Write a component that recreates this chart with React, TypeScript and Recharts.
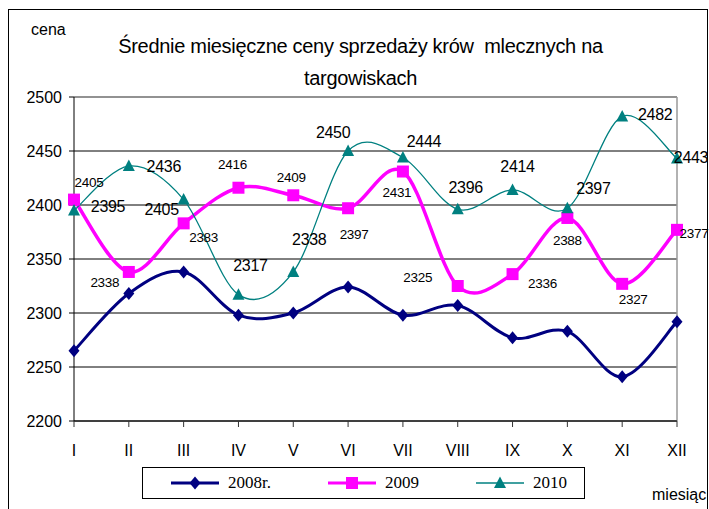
import React from 'react';
import { LineChart, Line, XAxis, YAxis, CartesianGrid, ReferenceLine, Legend, LabelList } from 'recharts';

const months = ['I', 'II', 'III', 'IV', 'V', 'VI', 'VII', 'VIII', 'IX', 'X', 'XI', 'XII'];
const prices2008 = [2265, 2318, 2338, 2298, 2300, 2324, 2298, 2307, 2277, 2283, 2241, 2292];
const prices2009 = [2405, 2338, 2383, 2416, 2409, 2397, 2431, 2325, 2336, 2388, 2327, 2377];
const prices2010 = [2395, 2436, 2405, 2317, 2338, 2450, 2444, 2396, 2414, 2397, 2482, 2443];
const yTicks = [2200, 2250, 2300, 2350, 2400, 2450, 2500];

const data = months.map((m, i) => ({
  month: m,
  y2008: prices2008[i],
  y2009: prices2009[i],
  y2010: prices2010[i],
}));

// where each data label sits, relative to its point (hand placed in the original)
const OFFSETS_2009 = [
  [15, -17], [-24, 11], [20, 14], [-6, -23], [-2, -18], [6, 26],
  [-6, 21], [-40, -9], [30, 9], [0, 23], [11, 16], [17, 4],
];
const OFFSETS_2010 = [
  [34, -4], [35, 0], [-22, 10], [12, -29], [16, -32], [-15, -19],
  [21, -16], [8, -22], [5, -23], [26, -20], [33, -2], [14, -1],
];

const FONT = '"Liberation Sans", Arial, sans-serif';
const NAVY = '#000080';
const PINK = '#FF00FF';
const TEAL = '#008080';

// Excel-style smoothing: cubic bezier with control points at 1/6 of the neighbour chord
function excelSmooth(context: any) {
  let pts: number[][] = [];
  return {
    areaStart() {},
    areaEnd() {},
    lineStart() {
      pts = [];
    },
    point(x: number, y: number) {
      pts.push([+x, +y]);
    },
    lineEnd() {
      if (!pts.length) return;
      context.moveTo(pts[0][0], pts[0][1]);
      for (let i = 0; i < pts.length - 1; i++) {
        const p0 = pts[i - 1] || pts[i];
        const p1 = pts[i];
        const p2 = pts[i + 1];
        const p3 = pts[i + 2] || pts[i + 1];
        context.bezierCurveTo(
          p1[0] + (p2[0] - p0[0]) / 6,
          p1[1] + (p2[1] - p0[1]) / 6,
          p2[0] - (p3[0] - p1[0]) / 6,
          p2[1] - (p3[1] - p1[1]) / 6,
          p2[0],
          p2[1]
        );
      }
    },
  };
}

const diamond = (cx: number, cy: number, color: string, key?: string) => (
  <path key={key} d={`M${cx},${cy - 6.5}L${cx + 5.5},${cy}L${cx},${cy + 6.5}L${cx - 5.5},${cy}Z`} fill={color} />
);
const square = (cx: number, cy: number, color: string, key?: string) => (
  <rect key={key} x={cx - 6} y={cy - 6} width={12} height={12} fill={color} />
);
const triangle = (cx: number, cy: number, color: string, key?: string) => (
  <path key={key} d={`M${cx},${cy - 6.5}L${cx + 6},${cy + 5}L${cx - 6},${cy + 5}Z`} fill={color} />
);

const dotOf = (shape: any, color: string) => (p: any) => shape(p.cx, p.cy, color, `dot-${p.index}`);

const labelOf = (offsets: number[][], fontSize: number) => (p: any) => {
  const vb = p.viewBox || {};
  const x = p.x ?? vb.x;
  const y = p.y ?? vb.y;
  const [dx, dy] = offsets[p.index] || [0, 0];
  return (
    <text
      key={`lbl-${p.index}`}
      x={x + dx}
      y={y + dy}
      textAnchor="middle"
      dominantBaseline="central"
      fontFamily={FONT}
      fontSize={fontSize}
      letterSpacing={-0.3}
      fill="#000"
    >
      {p.value}
    </text>
  );
};

const LEGEND_SHAPES: Record<string, any> = { '2008r.': diamond, '2009': square, '2010': triangle };
const LEGEND_WIDTHS: Record<string, number> = { '2008r.': 3, '2009': 3, '2010': 1.3 };

function LegendBox({ payload }: any) {
  return (
    <div
      style={{
        boxSizing: 'border-box',
        width: 443,
        height: 32,
        border: '1px solid #000',
        display: 'flex',
        alignItems: 'center',
        paddingLeft: 28,
        gap: 57,
        background: '#fff',
      }}
    >
      {(payload || []).map((item: any) => (
        <div key={item.value} style={{ display: 'flex', alignItems: 'center', gap: 9 }}>
          <svg width={48} height={16}>
            <line x1={0} y1={8} x2={48} y2={8} stroke={item.color} strokeWidth={LEGEND_WIDTHS[item.value]} />
            {LEGEND_SHAPES[item.value](24, 8, item.color)}
          </svg>
          <span style={{ fontFamily: '"Liberation Serif", "Times New Roman", serif', fontSize: 17, color: '#000' }}>
            {item.value}
          </span>
        </div>
      ))}
    </div>
  );
}

export default function App() {
  return (
    <div style={{ position: 'absolute', left: 0, top: 0, width: 709, height: 509, background: '#fff', overflow: 'hidden' }}>
      <div
        style={{
          position: 'absolute',
          left: 7.5,
          top: 8.5,
          width: 698,
          height: 520,
          border: '1.5px solid #000',
        }}
      />
      <div style={{ position: 'absolute', left: 31, top: 20, fontFamily: FONT, fontSize: 16, lineHeight: '20px' }}>cena</div>
      <div
        style={{
          position: 'absolute',
          left: 0,
          width: 721,
          top: 30,
          textAlign: 'center',
          fontFamily: FONT,
          fontSize: 20,
          lineHeight: '32px',
          letterSpacing: -0.3,
          whiteSpace: 'pre',
        }}
      >
        {'Średnie miesięczne ceny sprzedaży krów  mlecznych na\ntargowiskach'}
      </div>
      <div style={{ position: 'absolute', left: 652, top: 485, fontFamily: FONT, fontSize: 16, lineHeight: '20px', whiteSpace: 'nowrap' }}>
        miesiąc
      </div>
      <div style={{ position: 'absolute', left: 0, top: 0 }}>
        <LineChart width={709} height={509} data={data} margin={{ top: 97, right: 32, left: 0, bottom: 58 }}>
          <CartesianGrid vertical={false} stroke="#000" strokeWidth={1} fill="none" />
          <ReferenceLine y={2500} stroke="#999" strokeWidth={1.5} />
          <ReferenceLine x="XII" stroke="#999" strokeWidth={1.5} />
          <XAxis
            dataKey="month"
            height={30}
            axisLine={{ stroke: '#000' }}
            tickLine={{ stroke: '#333' }}
            tickSize={6}
            tickMargin={18}
            tick={{ fontFamily: FONT, fontSize: 16, fill: '#000' }}
            interval={0}
          />
          <YAxis
            width={74}
            domain={[2200, 2500]}
            ticks={yTicks}
            allowDataOverflow
            axisLine={{ stroke: '#000' }}
            tickLine={{ stroke: '#000' }}
            tickSize={5}
            tickMargin={7}
            tick={{ fontFamily: FONT, fontSize: 16, fill: '#000' }}
          />
          <Legend
            layout="horizontal"
            verticalAlign="middle"
            align="center"
            wrapperStyle={{ left: 142, top: 467, width: 443, height: 32 }}
            content={<LegendBox />}
          />
          <Line
            name="2008r."
            dataKey="y2008"
            stroke={NAVY}
            strokeWidth={3}
            type={excelSmooth as any}
            dot={dotOf(diamond, NAVY)}
            activeDot={false}
            isAnimationActive={false}
          />
          <Line
            name="2009"
            dataKey="y2009"
            stroke={PINK}
            strokeWidth={3.5}
            type={excelSmooth as any}
            dot={dotOf(square, PINK)}
            activeDot={false}
            isAnimationActive={false}
          >
            <LabelList dataKey="y2009" content={labelOf(OFFSETS_2009, 13.5)} />
          </Line>
          <Line
            name="2010"
            dataKey="y2010"
            stroke={TEAL}
            strokeWidth={1.3}
            type={excelSmooth as any}
            dot={dotOf(triangle, TEAL)}
            activeDot={false}
            isAnimationActive={false}
          >
            <LabelList dataKey="y2010" content={labelOf(OFFSETS_2010, 16)} />
          </Line>
        </LineChart>
      </div>
    </div>
  );
}
